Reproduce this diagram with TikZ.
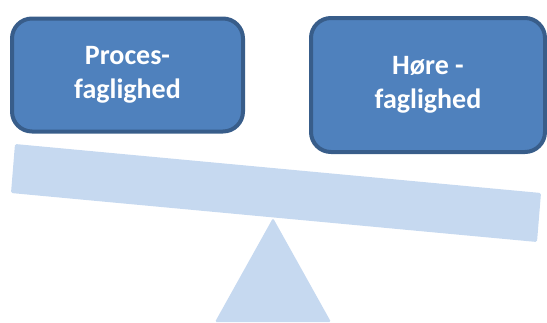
\documentclass[tikz,border=0pt]{standalone}
\usepackage{fontspec}
\setmainfont{Carlito}
\usetikzlibrary{positioning}

\definecolor{boxfill}{HTML}{4F81BD}
\definecolor{boxline}{HTML}{385D8A}
\definecolor{plankfill}{HTML}{C6D9F0}

\begin{document}
\begin{tikzpicture}[x=1pt, y=-1pt,
		fagbox/.style={rectangle, rounded corners=20pt, draw=boxline, line width=4pt, fill=boxfill,
			text=white, align=center, font=\bfseries\fontsize{28}{34}\selectfont}]
		\useasboundingbox (0,0) rectangle (547,322);
		\clip (0,0) rectangle (547,322);
		
		% fulcrum and plank
		\fill[plankfill, rounded corners=1.5pt] (273,218) -- (331,322) -- (215,322) -- cycle;
		\fill[plankfill, rounded corners=1.5pt] (15,144) -- (541,193) -- (537,242) -- (11,193) -- cycle;
		
		\node[fagbox, minimum width=231pt, minimum height=113pt] (proces) at (127.5,75) {Proces-\\faglighed};
		\node[fagbox, minimum width=234pt, minimum height=134pt] (hoere) at (428,85) {Høre -\\faglighed};
		
	\end{tikzpicture}
\end{document}
